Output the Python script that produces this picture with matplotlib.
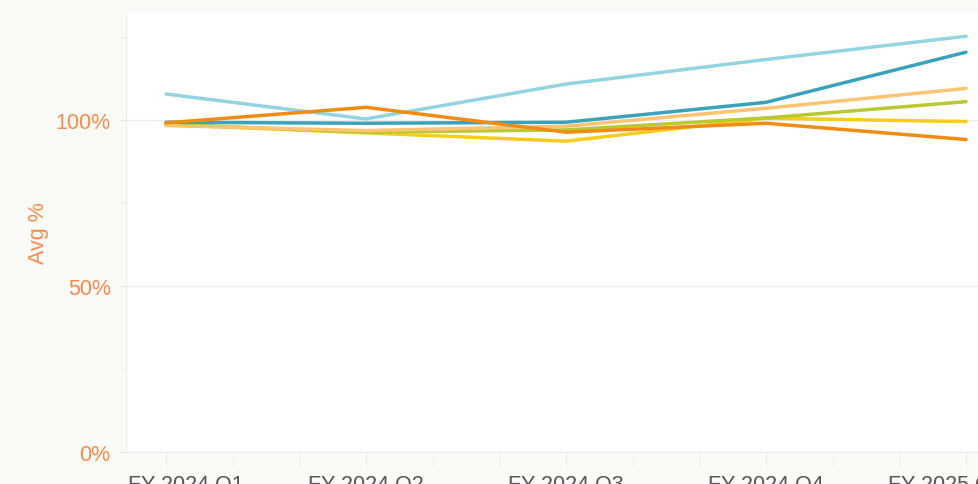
import matplotlib
matplotlib.use("Agg")
import matplotlib.pyplot as plt
from matplotlib.ticker import FixedLocator
import matplotlib.transforms as mtransforms

quarters = ["FY 2024 Q1", "FY 2024 Q2", "FY 2024 Q3", "FY 2024 Q4", "FY 2025 Q1"]
light_blue = [107.8, 100.3, 110.8, 118.2, 125.2]
yellow = [98.6, 96.1, 93.6, 100.5, 99.5]
yellow_green = [98.7, 96.3, 97.0, 100.6, 105.5]
light_orange = [98.3, 96.8, 98.1, 103.5, 109.5]
teal = [99.3, 99.0, 99.3, 105.3, 120.4]
orange = [99.1, 103.8, 96.3, 99.0, 94.1]

series = [
    (light_blue, "#93d4e1"),
    (yellow, "#f6cd1c"),
    (yellow_green, "#b8c932"),
    (light_orange, "#fec473"),
    (teal, "#3aa3b9"),
    (orange, "#f28b14"),
]

W, H = 979, 485
fig = plt.figure(figsize=(W / 100, H / 100), dpi=100)
fig.patch.set_facecolor("#fafaf6")
plt.rcParams["font.family"] = ["Liberation Sans", "DejaVu Sans"]

left, right, top, bottom = 126, 1006, 13, 453
ax = fig.add_axes([left / W, 1 - bottom / H, (right - left) / W, (bottom - top) / H])
ax.set_facecolor("white")

x = list(range(len(quarters)))
for vals, col in series:
    ax.plot(x, vals, color=col, lw=2.5, solid_capstyle="round", solid_joinstyle="round")

ax.set_xlim(-0.2, 4.2)
ax.set_ylim(0, 132.5)

ax.set_yticks([0, 50, 100])
ax.set_yticklabels(["0%", "50%", "100%"])
ax.yaxis.set_minor_locator(FixedLocator([25, 75, 125]))
ax.grid(axis="y", which="major", color="#ececec", lw=1)
ax.tick_params(axis="y", which="both", length=4, color="#e6e6e6", labelsize=15.5,
               labelcolor="#f98a4b", pad=7)

ax.set_xticks(x)
ax.set_xticklabels(quarters)
ax.xaxis.set_minor_locator(FixedLocator([i / 3 for i in range(0, 13) if i % 3 != 0]))
ax.tick_params(axis="x", which="both", length=10, color="#ececec", labelsize=15.5,
               labelcolor="#555555", pad=6)
labels = ax.get_xticklabels()
shift_r = mtransforms.ScaledTranslation(20 / 100, 0, fig.dpi_scale_trans)
shift_l = mtransforms.ScaledTranslation(-20 / 100, 0, fig.dpi_scale_trans)
labels[0].set_transform(labels[0].get_transform() + shift_r)
labels[-1].set_transform(labels[-1].get_transform() + shift_l)

for s in ["top", "right"]:
    ax.spines[s].set_visible(False)
ax.spines["left"].set_color("#ececec")
ax.spines["bottom"].set_color("#ececec")

ax.set_ylabel("Avg %", color="#f98a4b", fontsize=15.5, labelpad=5)
ax.set_axisbelow(True)

fig.savefig("out.png", dpi=100, facecolor=fig.get_facecolor())
